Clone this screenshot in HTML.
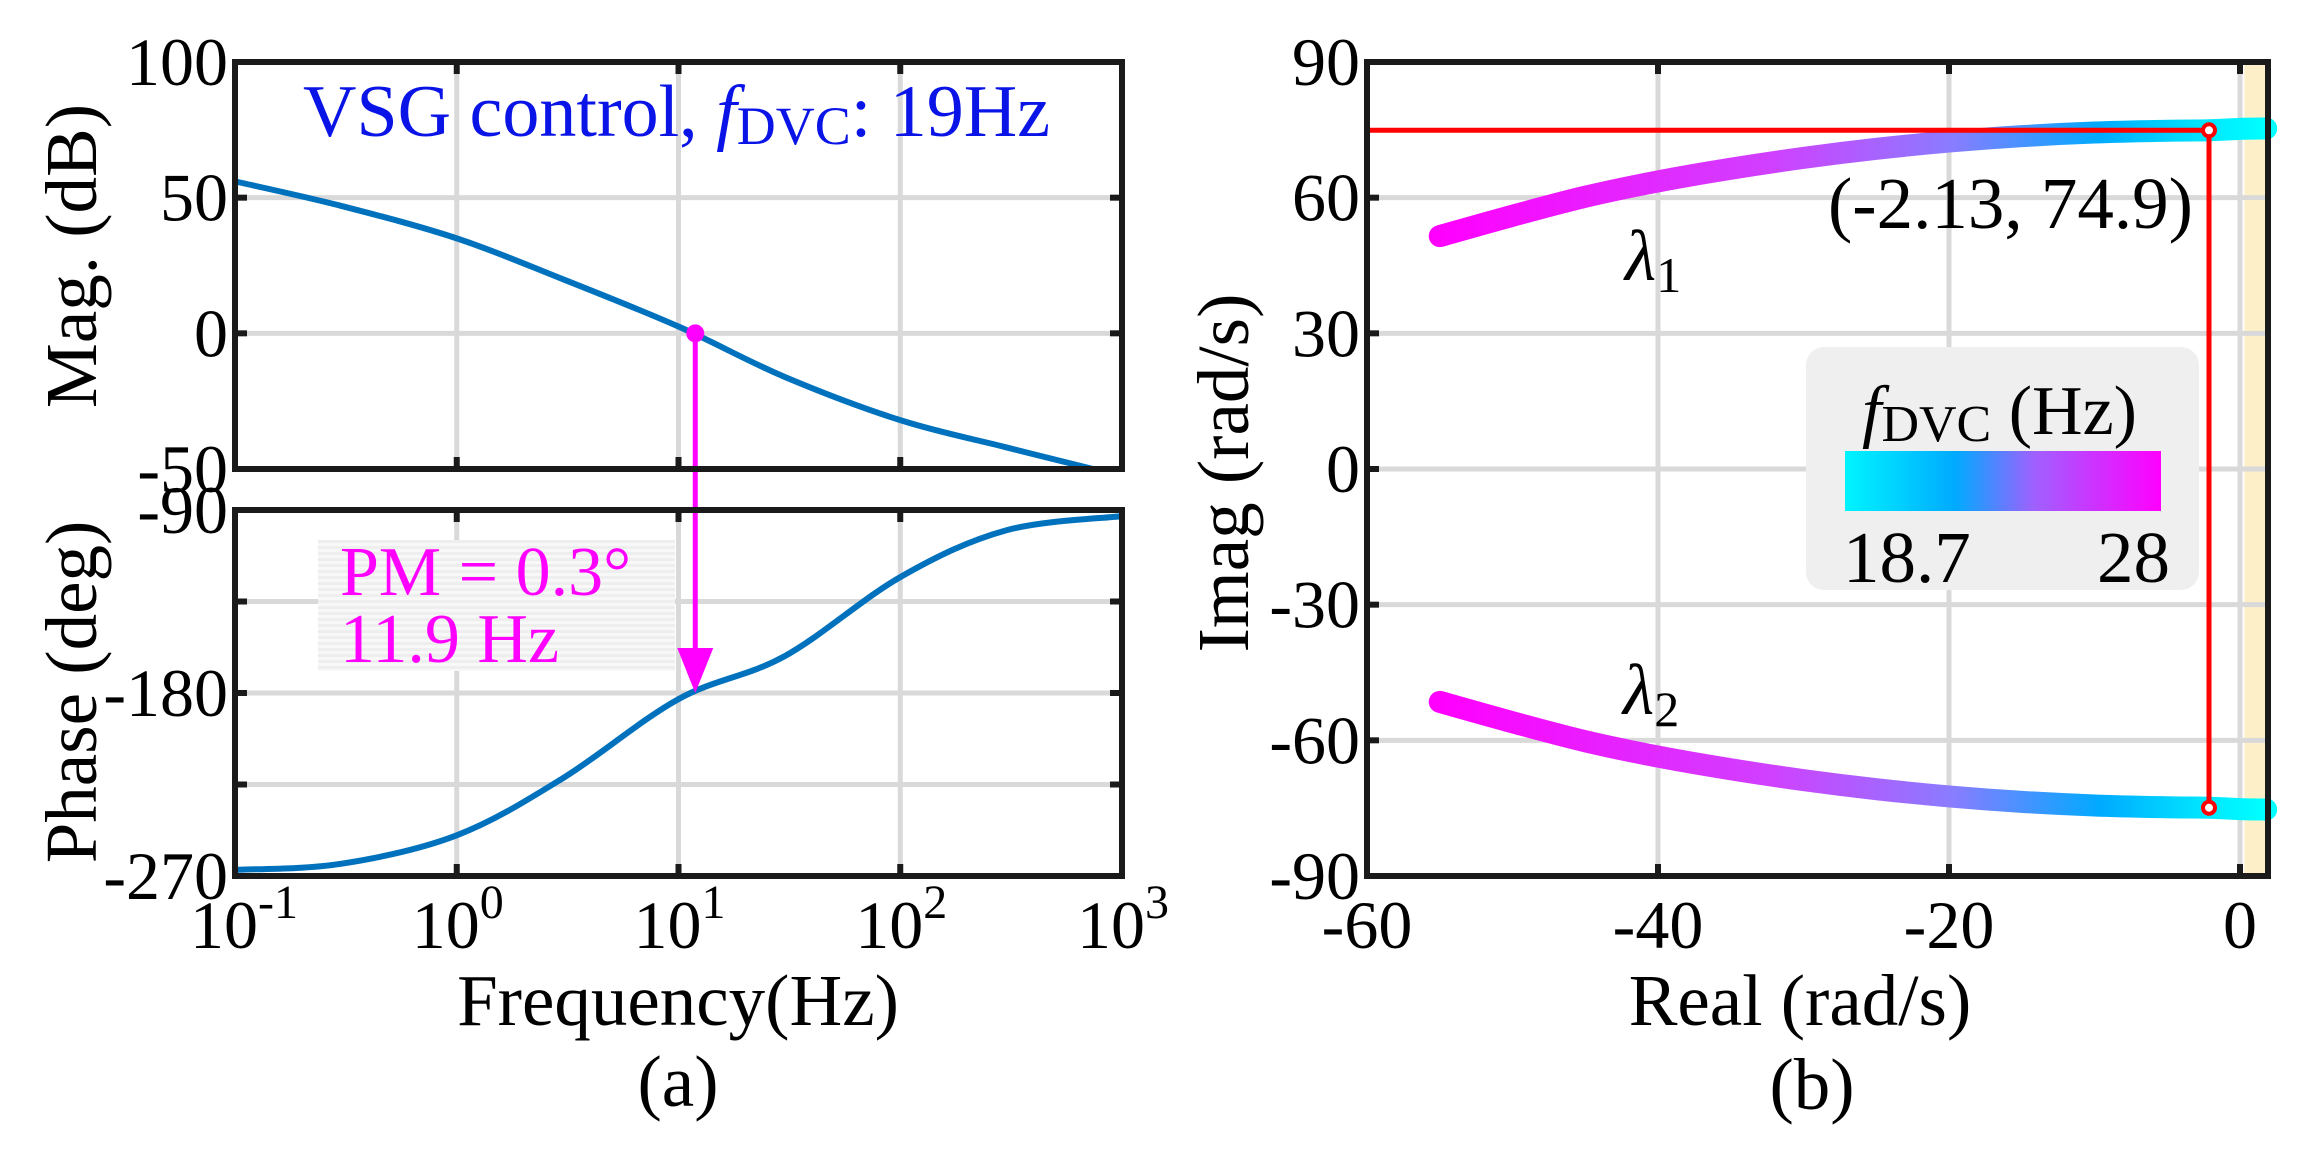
<!DOCTYPE html>
<html><head><meta charset="utf-8"><style>
html,body{margin:0;padding:0;background:#fff}
svg{display:block;font-family:"Liberation Serif",serif}
</style></head><body>
<svg id="fig" width="2300" height="1157" viewBox="0 0 2300 1157" xmlns="http://www.w3.org/2000/svg">
<defs>
<linearGradient id="cbar" x1="0" x2="1" y1="0" y2="0">
<stop offset="0" stop-color="#00f4ff"/><stop offset="0.35" stop-color="#00aaff"/><stop offset="0.6" stop-color="#a060ff"/><stop offset="1" stop-color="#ff00ff"/>
</linearGradient>
<linearGradient id="locusGrad" gradientUnits="userSpaceOnUse" x1="1440" x2="2265" y1="0" y2="0">
<stop offset="0" stop-color="#ff00ff"/><stop offset="0.4" stop-color="#d040ff"/><stop offset="0.62" stop-color="#8a7cff"/><stop offset="0.8" stop-color="#00aaff"/><stop offset="0.93" stop-color="#00e8ff"/><stop offset="1" stop-color="#00ffff"/>
</linearGradient>
<pattern id="stripe" width="4" height="6" patternUnits="userSpaceOnUse"><rect width="4" height="3" fill="#eeeeee"/><rect y="3" width="4" height="3" fill="#f8f8f8"/></pattern>
</defs>
<g id="left"></g>
<g id="right"></g>
</svg>
<script>
// Bode data
const bodeFreqMag = [0.1, 0.3, 1, 3, 10, 30, 100, 300, 740];
const magDb = [56, 47, 35, 20, 2.5, -16, -32, -42, -50];
const bodeFreqPh = [0.1, 0.3, 1, 3, 10, 30, 100, 300, 1000];
const phaseDeg = [-267, -264, -250, -222, -183, -162, -123, -100, -93];
const magTicks = [100, 50, 0, -50];
const phaseTicks = [-90, -180, -270];
const phaseGrid = [-135, -225];
const freqExps = [-1, 0, 1, 2, 3];
const crossFreq = 11.9;
// Root locus data (lambda1; lambda2 is its conjugate)
const locusReal = [-55, -50, -45, -40, -35, -30, -25, -20, -15, -10, -5, -2.13, 0, 1.8];
const locusImag = [51.5, 56, 60.2, 63.6, 66.4, 68.8, 70.8, 72.4, 73.6, 74.4, 74.8, 74.9, 75.2, 75.3];
const realTicks = [-60, -40, -20, 0];
const imagTicks = [90, 60, 30, 0, -30, -60, -90];
const markPoint = [-2.13, 74.9];

const NS = "http://www.w3.org/2000/svg";
function mk(parent, tag, attrs, text){const e=document.createElementNS(NS,tag);for(const k in attrs)e.setAttribute(k,attrs[k]);if(text!==undefined)e.textContent=text;parent.appendChild(e);return e;}
function smooth(pts){let d=`M${pts[0][0]},${pts[0][1]}`;for(let i=0;i<pts.length-1;i++){const p0=pts[Math.max(0,i-1)],p1=pts[i],p2=pts[i+1],p3=pts[Math.min(pts.length-1,i+2)];const c1=[p1[0]+(p2[0]-p0[0])/6,p1[1]+(p2[1]-p0[1])/6],c2=[p2[0]-(p3[0]-p1[0])/6,p2[1]-(p3[1]-p1[1])/6];d+=` C${c1[0]},${c1[1]} ${c2[0]},${c2[1]} ${p2[0]},${p2[1]}`;}return d;}

const TF=68, AF=73;
const L = document.getElementById('left');
const X0=235,X1=1122;
const fx = f => X0 + (Math.log10(f)+1)*(X1-X0)/4;
const MT=62,MB=469, my = v => MT + (100-v)*(MB-MT)/150;
const PT=510,PB=876, py = v => PT + (-90-v)*(PB-PT)/180;
const GRID="#d9d9d9";

freqExps.forEach(e=>{const x=fx(Math.pow(10,e));
 let g=mk(L,'line',{x1:x,x2:x,y1:MT,y2:MB,stroke:GRID,'stroke-width':5});
 
 g=mk(L,'line',{x1:x,x2:x,y1:PT,y2:PB,stroke:GRID,'stroke-width':5});
 
});
magTicks.forEach(v=>{const g=mk(L,'line',{x1:X0,x2:X1,y1:my(v),y2:my(v),stroke:GRID,'stroke-width':5});});
phaseTicks.concat(phaseGrid).forEach(v=>{const g=mk(L,'line',{x1:X0,x2:X1,y1:py(v),y2:py(v),stroke:GRID,'stroke-width':5});});

let box=mk(L,'rect',{x:318,y:540,width:357,height:131,fill:'url(#stripe)'});

let t=mk(L,'text',{x:340,y:595,'font-size':70,fill:'#ff00ff'},'PM = 0.3°');
t=mk(L,'text',{x:340,y:662,'font-size':70,fill:'#ff00ff'},'11.9 Hz');

let p=mk(L,'path',{d:smooth(bodeFreqMag.map((f,i)=>[fx(f),my(magDb[i])])),fill:'none',stroke:'#0072bd','stroke-width':6});

p=mk(L,'path',{d:smooth(bodeFreqPh.map((f,i)=>[fx(f),py(phaseDeg[i])])),fill:'none',stroke:'#0072bd','stroke-width':6});


const ax=fx(crossFreq);
let a=mk(L,'line',{x1:ax,x2:ax,y1:my(0),y2:py(-180)-40,stroke:'#ff00ff','stroke-width':5});
a=mk(L,'polygon',{points:`${ax-18},${py(-180)-45} ${ax+18},${py(-180)-45} ${ax},${py(-180)}`,fill:'#ff00ff'});
a=mk(L,'circle',{cx:ax,cy:my(0),r:9,fill:'#ff00ff'});

let f=mk(L,'rect',{x:X0,y:MT,width:X1-X0,height:MB-MT,fill:'none',stroke:'#1a1a1a','stroke-width':6});
f=mk(L,'rect',{x:X0,y:PT,width:X1-X0,height:PB-PT,fill:'none',stroke:'#1a1a1a','stroke-width':6});
freqExps.forEach(e=>{const x=fx(Math.pow(10,e));[[MT,MT+12],[MB,MB-12],[PT,PT+12],[PB,PB-12]].forEach(([y1,y2])=>{const k=mk(L,'line',{x1:x,x2:x,y1:y1,y2:y2,stroke:'#1a1a1a','stroke-width':6});});});
magTicks.forEach(v=>{[[X0,X0+12],[X1,X1-12]].forEach(([x1,x2])=>{const k=mk(L,'line',{x1:x1,x2:x2,y1:my(v),y2:my(v),stroke:'#1a1a1a','stroke-width':6});});});
phaseTicks.concat(phaseGrid).forEach(v=>{[[X0,X0+12],[X1,X1-12]].forEach(([x1,x2])=>{const k=mk(L,'line',{x1:x1,x2:x2,y1:py(v),y2:py(v),stroke:'#1a1a1a','stroke-width':6});});});

magTicks.forEach(v=>{const k=mk(L,'text',{x:228,y:my(v)+23,'font-size':TF,'text-anchor':'end'},String(v));});
phaseTicks.forEach(v=>{const k=mk(L,'text',{x:228,y:py(v)+23,'font-size':TF,'text-anchor':'end'},String(v));});
freqExps.forEach(e=>{const x=fx(Math.pow(10,e));const k=mk(L,'text',{x:x-45,y:948,'font-size':TF});
 k.appendChild(document.createTextNode('10'));mk(k,'tspan',{dy:-30,'font-size':48},String(e));});
t=mk(L,'text',{x:678,y:1025,'font-size':AF,'text-anchor':'middle'},'Frequency(Hz)');
t=mk(L,'text',{x:678,y:1106,'font-size':AF,'text-anchor':'middle'},'(a)');
t=mk(L,'text',{x:0,y:0,'font-size':AF,'text-anchor':'middle',transform:'translate(96,256) rotate(-90)'},'Mag. (dB)');
t=mk(L,'text',{x:0,y:0,'font-size':AF,'text-anchor':'middle',transform:'translate(96,692) rotate(-90)'},'Phase (deg)');
t=mk(L,'text',{x:303,y:136,'font-size':74,fill:'#0a14e6'});
t.appendChild(document.createTextNode('VSG control, '));mk(t,'tspan',{'font-style':'italic'},'f');mk(t,'tspan',{'font-size':54,dy:8},'DVC');mk(t,'tspan',{dy:-8},': 19Hz');

// ---- Right plot
const R=document.getElementById('right');
const RX0=1367,RX1=2268,RY0=62,RY1=876;
const rx=v=>1949+(v+20)*291/20;
const ry=v=>RY0+(90-v)*(RY1-RY0)/180;
let y=mk(R,'rect',{x:rx(0.3),y:RY0,width:RX1-rx(0.3),height:RY1-RY0,fill:'#fdf0c8'});
realTicks.forEach(v=>{const g=mk(R,'line',{x1:rx(v),x2:rx(v),y1:RY0,y2:RY1,stroke:GRID,'stroke-width':5});});
imagTicks.forEach(v=>{const g=mk(R,'line',{x1:RX0,x2:RX1,y1:ry(v),y2:ry(v),stroke:GRID,'stroke-width':5});});
p=mk(R,'path',{d:smooth(locusReal.map((v,i)=>[rx(v),ry(locusImag[i])])),fill:'none',stroke:'url(#locusGrad)','stroke-width':22,'stroke-linecap':'round'});
p=mk(R,'path',{d:smooth(locusReal.map((v,i)=>[rx(v),ry(-locusImag[i])])),fill:'none',stroke:'url(#locusGrad)','stroke-width':22,'stroke-linecap':'round'});
let r=mk(R,'polyline',{points:`${RX0},${ry(markPoint[1])} ${rx(markPoint[0])},${ry(markPoint[1])} ${rx(markPoint[0])},${ry(-markPoint[1])}`,fill:'none',stroke:'#ff0000','stroke-width':5});
[markPoint[1],-markPoint[1]].forEach(v=>{const c=mk(R,'circle',{cx:rx(markPoint[0]),cy:ry(v),r:6,fill:'#fff',stroke:'#ff0000','stroke-width':4});});
t=mk(R,'text',{x:1828,y:228,'font-size':AF},'(-2.13, 74.9)');
t=mk(R,'text',{x:1625,y:280,'font-size':72,'font-style':'italic'},'λ');mk(t,'tspan',{'font-size':50,dy:12,'font-style':'normal'},'1');
t=mk(R,'text',{x:1623,y:714,'font-size':72,'font-style':'italic'},'λ');mk(t,'tspan',{'font-size':50,dy:12,'font-style':'normal'},'2');
let cb=mk(R,'rect',{x:1806,y:347,width:393,height:243,rx:18,fill:'#efefef'});
cb=mk(R,'rect',{x:1845,y:451,width:316,height:60,fill:'url(#cbar)'});
t=mk(R,'text',{x:1862,y:434,'font-size':70});
mk(t,'tspan',{'font-style':'italic'},'f');mk(t,'tspan',{'font-size':52,dy:7},'DVC');mk(t,'tspan',{dy:-7},' (Hz)');
t=mk(R,'text',{x:1843,y:582,'font-size':AF},'18.7');
t=mk(R,'text',{x:2170,y:582,'font-size':AF,'text-anchor':'end'},'28');
f=mk(R,'rect',{x:RX0,y:RY0,width:RX1-RX0,height:RY1-RY0,fill:'none',stroke:'#1a1a1a','stroke-width':6});
realTicks.forEach(v=>{[[RY0,RY0+12],[RY1,RY1-12]].forEach(([a1,a2])=>{const k=mk(R,'line',{x1:rx(v),x2:rx(v),y1:a1,y2:a2,stroke:'#1a1a1a','stroke-width':6});});
 const l=mk(R,'text',{x:rx(v),y:948,'font-size':TF,'text-anchor':'middle'},String(v));});
imagTicks.forEach(v=>{const k=mk(R,'line',{x1:RX0,x2:RX0+12,y1:ry(v),y2:ry(v),stroke:'#1a1a1a','stroke-width':6});
 const l=mk(R,'text',{x:1360,y:ry(v)+23,'font-size':TF,'text-anchor':'end'},String(v));});
t=mk(R,'text',{x:1800,y:1025,'font-size':AF,'text-anchor':'middle'},'Real (rad/s)');
t=mk(R,'text',{x:1812,y:1109,'font-size':AF,'text-anchor':'middle'},'(b)');
t=mk(R,'text',{x:0,y:0,'font-size':AF,'text-anchor':'middle',transform:'translate(1248,473) rotate(-90)'},'Imag (rad/s)');
</script>
</body></html>
